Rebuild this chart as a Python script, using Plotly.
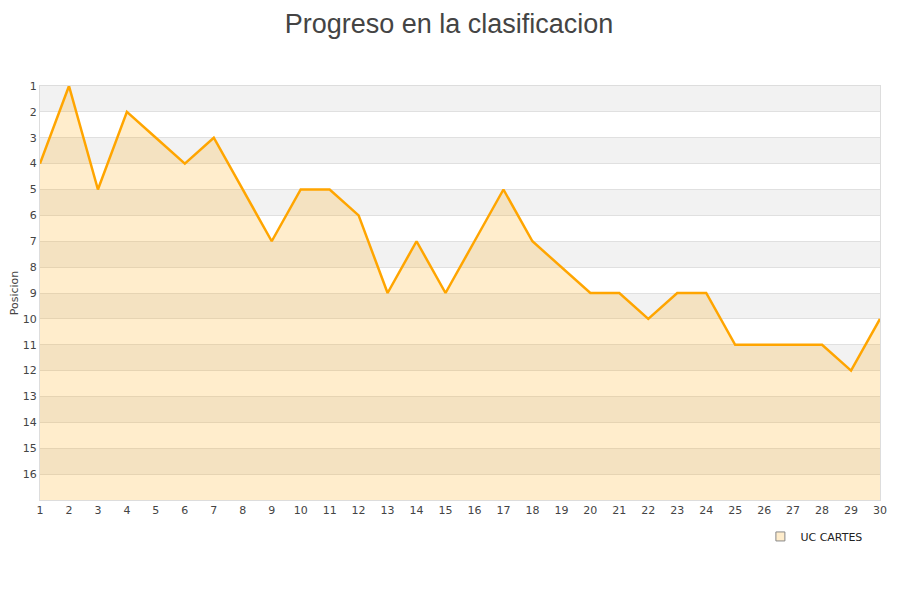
import plotly.graph_objects as go

jornadas = list(range(1, 31))
posiciones = [4, 1, 5, 2, 3, 4, 3, 5, 7, 5, 5, 6, 9, 7, 9, 7, 5, 7, 8, 9,
              9, 10, 9, 9, 11, 11, 11, 11, 12, 10]
equipo = "UC CARTES"
ultimo_puesto = 17
ticks_y = list(range(1, 17))

fig = go.Figure()

# linea base invisible para rellenar hasta el fondo del eje (eje invertido)
fig.add_trace(go.Scatter(x=jornadas, y=[ultimo_puesto] * len(jornadas), mode="lines",
                         line=dict(width=0), showlegend=False, hoverinfo="skip"))
fig.add_trace(go.Scatter(x=jornadas, y=posiciones, mode="lines", name=equipo,
                         line=dict(color="#ffa500", width=2.5),
                         fill="tonexty", fillcolor="rgba(255,165,0,0.2)",
                         showlegend=False))
# entrada de leyenda
fig.add_trace(go.Scatter(x=[None], y=[None], mode="markers", name=equipo,
                         marker=dict(symbol="square", size=9, color="#ffedcc",
                                     line=dict(color="#888", width=1))))

# bandas alternas grises
for t in ticks_y[::2]:
    fig.add_shape(type="rect", xref="paper", x0=0, x1=1, yref="y", y0=t, y1=t + 1,
                  fillcolor="#f2f2f2", line_width=0, layer="below")

fig.update_layout(
    width=900, height=600,
    title=dict(text="Progreso en la clasificacion", x=0.49, xanchor="center",
               y=1, yanchor="top", pad=dict(t=6),
               font=dict(family="Liberation Sans, Arial", size=27, color="#444")),
    font=dict(family="DejaVu Sans", size=11, color="#444"),
    plot_bgcolor="white", paper_bgcolor="white",
    margin=dict(l=32, r=28, t=78, b=108),
    legend=dict(x=0.985, xanchor="right", y=-0.053, yanchor="top",
                font=dict(size=11, color="#222"), bgcolor="rgba(0,0,0,0)"),
)
fig.update_xaxes(range=[1, 30], tickmode="array", tickvals=jornadas, showgrid=False,
                 zeroline=False, showline=True, linecolor="#ddd", mirror=True,
                 ticks="", tickfont=dict(size=11, color="#444"))
fig.update_yaxes(range=[ultimo_puesto, 1], tickmode="array", tickvals=ticks_y,
                 showgrid=True, gridcolor="#e0e0e0", zeroline=False, showline=True,
                 linecolor="#ddd", mirror=True, ticks="", automargin=False,
                 title=dict(text="Posicion", font=dict(size=11, color="#444"), standoff=10),
                 tickfont=dict(size=11, color="#444"))

fig.write_html("out.html")
